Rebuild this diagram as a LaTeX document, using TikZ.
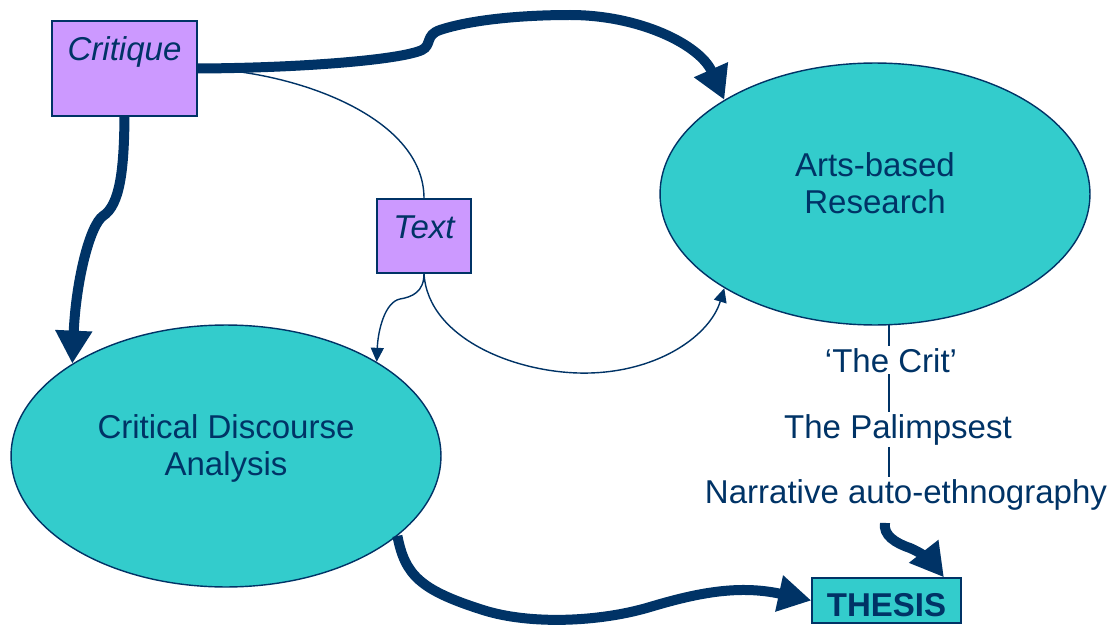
\documentclass[tikz,border=0pt]{standalone}
\usepackage{fontspec}
\setmainfont{Liberation Sans}
\usetikzlibrary{arrows.meta,shapes.geometric}
\definecolor{navy}{HTML}{003366}
\definecolor{lilac}{HTML}{CC99FF}
\definecolor{aqua}{HTML}{33CCCC}

\begin{document}
\begin{tikzpicture}[x=0.02cm, y=-0.02cm, text=navy,
    font=\fontsize{18.8}{21.5}\selectfont,
    box/.style={draw=navy, fill=lilac, line width=0.8pt, inner sep=0pt, font=\fontsize{18.8}{21.5}\selectfont\itshape},
    bubble/.style={ellipse, draw=navy, fill=aqua, line width=0.8pt, minimum width=8.6cm, minimum height=5.24cm, inner sep=0pt, align=center},
    step label/.style={anchor=base, inner sep=1pt},
    fat/.style={draw=navy, line width=0.2cm, -{Triangle[width=0.7cm,length=0.66cm]}},
    slim/.style={draw=navy, line width=0.8pt, -{Triangle[width=0.26cm,length=0.28cm]}}]
    \useasboundingbox (0,0) rectangle (1115,625);

    \node [box, minimum width=2.9cm, minimum height=1.9cm, text height=0.78cm, text depth=1.12cm] (critique) at (124.5,68.5) {Critique};
    \node [box, minimum width=1.88cm, minimum height=1.48cm, text height=0.78cm, text depth=0.70cm] (txt) at (424,236) {Text};
    \node [bubble, text depth=12.5pt] (arts) at (875,194) {Arts-based\\Research};
    \node [bubble, text depth=12.5pt] (cda) at (226,456) {Critical Discourse\\Analysis};
    \node [draw=navy, fill=aqua, line width=0.8pt, inner sep=0pt, minimum width=2.98cm, minimum height=0.9cm,
           text height=0.76cm, text depth=0.14cm, font=\fontsize{18.8}{21.5}\selectfont\bfseries] (thesis) at (886.5,600.5) {THESIS};

    \node [step label] (crit) at (891,372) {‘The Crit’};
    \node [step label] (palimp) at (898,438) {The Palimpsest};
    \node [step label] (narr) at (906,503) {Narrative auto-ethnography};

    % thick arrows
    \draw [fat] (critique.east) .. controls (300,68) and (400,60) .. (422,50)
        .. controls (432,45) and (425,35) .. (440,30)
        .. controls (470,20) and (520,15) .. (570,15)
        .. controls (640,15) and (700,45) .. (arts.148);
    \draw [fat] (critique.south) .. controls (124,170) and (120,205) .. (103,216)
        .. controls (90,225) and (76,280) .. (cda.149);
    \draw [fat] (cda.-25) .. controls (405,575) and (420,590) .. (483,610)
        .. controls (530,625) and (600,622) .. (650,607)
        .. controls (700,592) and (740,585) .. (thesis.west);
    \draw [fat] ([xshift=-0.42cm,yshift=-0.22cm]narr.south) .. controls (883,535) and (895,543) .. (910,548)
        .. controls (922,553) and (932,562) .. (thesis.22);

    % thin links
    \draw [navy, line width=0.8pt] (critique.east) .. controls (290,70) and (424,115) .. (txt.north);
    \draw [slim] (txt.south) .. controls (424,292) and (412,297) .. (400,299)
        .. controls (385,302) and (378,330) .. (cda.32);
    \draw [slim] (txt.south) .. controls (428,340) and (520,375) .. (590,373)
        .. controls (660,371) and (710,335) .. (arts.212);
    \draw [navy, line width=0.8pt] (arts.-84) -- (arts.-84 |- crit.north)
        (arts.-84 |- crit.south) -- (arts.-84 |- palimp.north)
        (arts.-84 |- palimp.south) -- (arts.-84 |- narr.north);
\end{tikzpicture}
\end{document}
